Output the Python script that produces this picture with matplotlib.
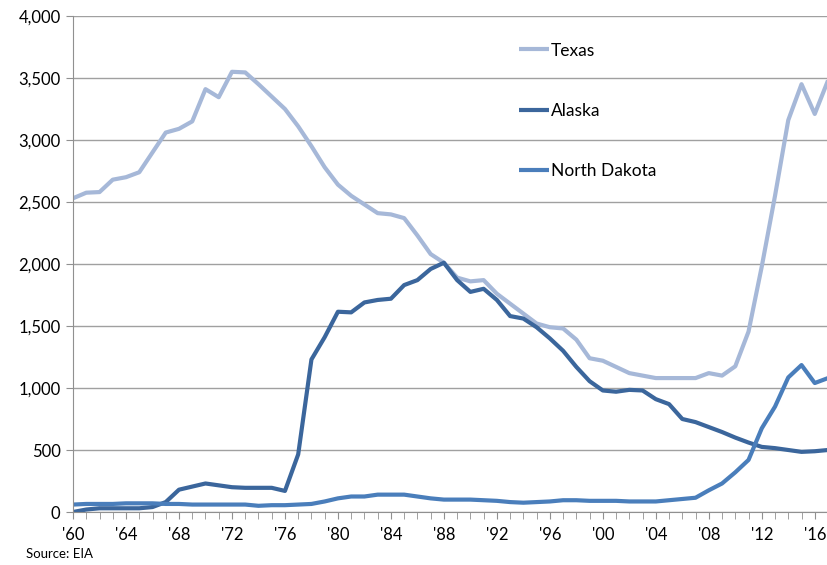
import matplotlib.pyplot as plt
import numpy as np

years = np.arange(1960, 2018)

texas = [2530, 2575, 2580, 2680, 2700, 2740, 2900, 3060, 3090, 3150,
         3410, 3345, 3550, 3545, 3450, 3350, 3250, 3110, 2950, 2780,
         2640, 2550, 2480, 2410, 2400, 2370, 2230, 2080, 2010, 1890,
         1860, 1870, 1760, 1680, 1600, 1520, 1490, 1480, 1390, 1240,
         1220, 1170, 1120, 1100, 1080, 1080, 1080, 1080, 1120, 1100,
         1175, 1455, 1980, 2550, 3160, 3450, 3210, 3480]

alaska = [0, 20, 30, 30, 30, 30, 40, 80, 180, 205,
          230, 215, 200, 195, 195, 195, 170, 465, 1230, 1410,
          1615, 1610, 1690, 1710, 1720, 1830, 1870, 1960, 2010, 1870,
          1775, 1800, 1710, 1580, 1560, 1490, 1400, 1300, 1170, 1055,
          980, 970, 985, 980, 910, 870, 750, 725, 685, 645,
          600, 560, 525, 515, 500, 485, 490, 500]

north_dakota = [60, 65, 65, 65, 70, 70, 70, 65, 65, 60,
                60, 60, 60, 60, 50, 55, 55, 60, 65, 85,
                110, 125, 125, 140, 140, 140, 125, 110, 100, 100,
                100, 95, 90, 80, 75, 80, 85, 95, 95, 90,
                90, 90, 85, 85, 85, 95, 105, 115, 175, 230,
                320, 420, 675, 850, 1085, 1185, 1040, 1080]

year_labels = ["'60", "'64", "'68", "'72", "'76", "'80", "'84", "'88",
               "'92", "'96", "'00", "'04", "'08", "'12", "'16"]

plt.rcParams['font.family'] = ['Lato', 'DejaVu Sans']

fig = plt.figure(figsize=(8.28, 5.65), dpi=100)
ax = fig.add_axes([0.0882, 0.0938, 0.9118, 0.8779])

ax.plot(years, texas, color='#A6B8D8', lw=3, label='Texas', solid_capstyle='butt')
ax.plot(years, alaska, color='#3B669C', lw=3, label='Alaska', solid_capstyle='butt')
ax.plot(years, north_dakota, color='#4A7EBB', lw=3, label='North Dakota', solid_capstyle='butt')

ax.set_xlim(1960, 2017)
ax.set_ylim(0, 4000)
ax.set_yticks(np.arange(0, 4001, 500))
ax.set_yticklabels([f'{v:,}' for v in range(0, 4001, 500)])
ax.set_xticks(years, minor=True)
ax.set_xticks(np.arange(1960, 2017, 4))
ax.set_xticklabels(year_labels)

ax.grid(axis='y', color='#A0A0A0', lw=1)
ax.set_axisbelow(True)
for s in ['top', 'right']:
    ax.spines[s].set_visible(False)
ax.spines['left'].set_color('#909090')
ax.spines['bottom'].set_color('#909090')
ax.tick_params(axis='y', length=5, color='#909090', labelsize=12, pad=4)
ax.tick_params(axis='x', which='both', length=5, color='#909090', labelsize=12, pad=6)

ax.legend(loc='upper left', bbox_to_anchor=(0.57, 0.978), frameon=False,
          fontsize=12.5, handlelength=1.7, handletextpad=0.15, labelspacing=2.55)

fig.text(0.031, 0.012, 'Source: EIA', fontsize=9.5)

fig.savefig('out.png', dpi=100)
